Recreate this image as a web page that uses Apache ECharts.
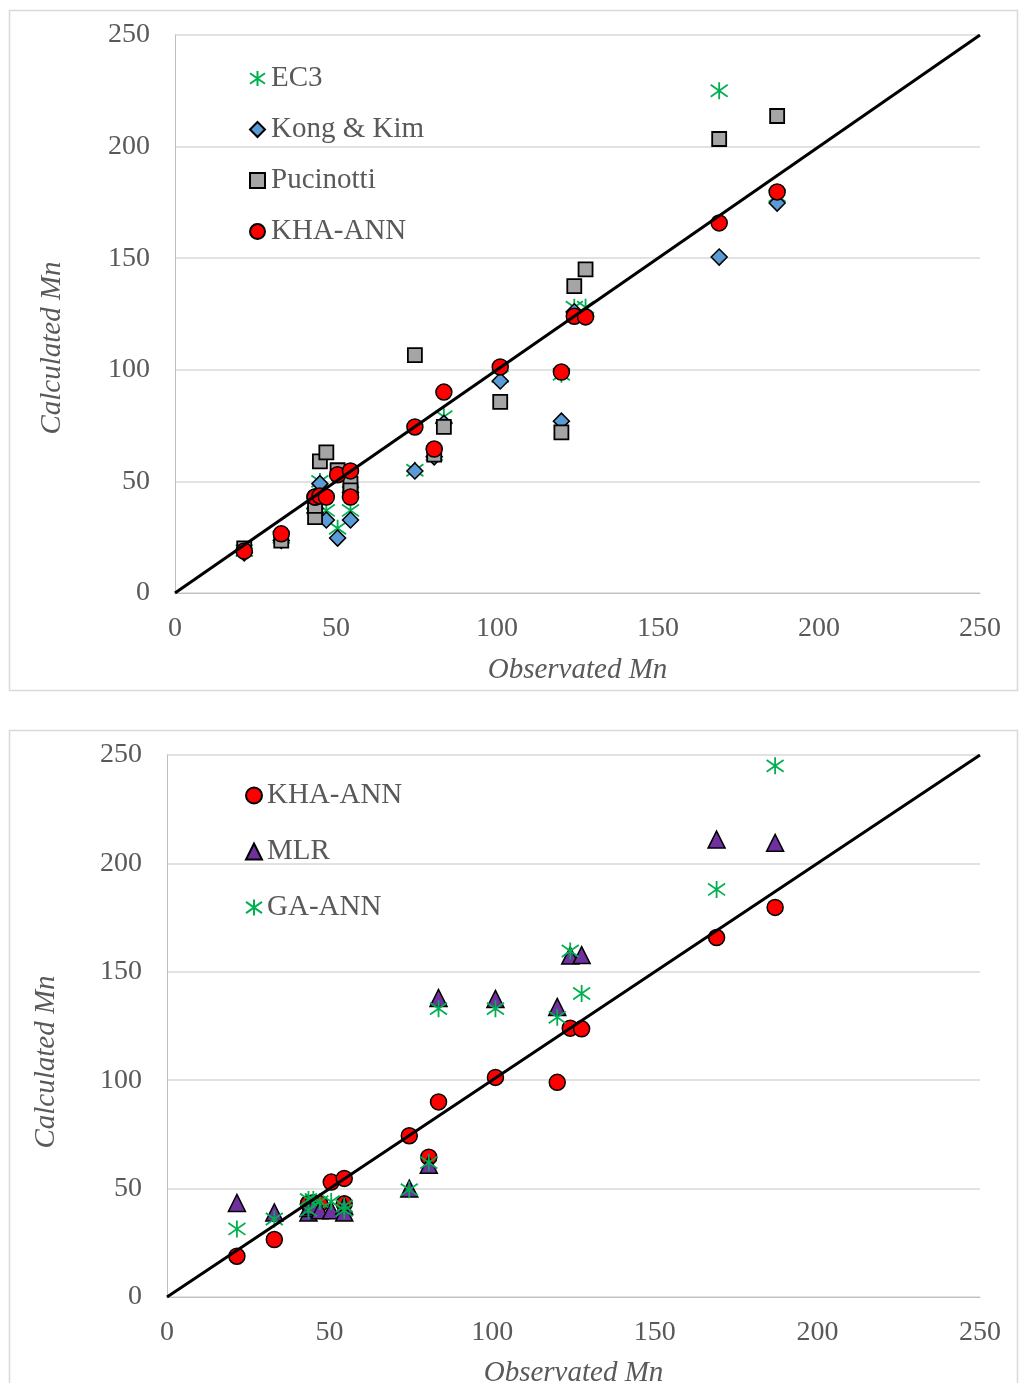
<!DOCTYPE html>
<html><head><meta charset="utf-8">
<script src="https://cdn.jsdelivr.net/npm/echarts@6/dist/echarts.min.js"></script>
<style>html,body{margin:0;padding:0;background:#fff;overflow:hidden;width:1019px;height:1383px}#c{width:1019px;height:1383px}</style>
</head><body><div id="c"></div>
<script>
// Observed Mn (shared by all series)
const observed = [21.5, 33, 43.5, 43.5, 45, 47, 50.5, 54.5, 54.5, 74.5, 80.5, 83.5, 101, 120, 124, 127.5, 169, 187];
// Top chart
const ec3 =       [19, 25, 40, 38, 50, 37, 29, 37, 45, 55, 62, 79, 97, 98, 128, 128, 225, 178];
const kongKim =   [18, 23.5, 38, 36, 49, 32.7, 24.6, 32.7, 45, 54.7, 61, 76, 95, 77, 126, 124, 150.5, 174.7];
const pucinotti = [20, 23.5, 34, 39, 59, 63, 55, 49, 46, 106.6, 62, 74.4, 85.6, 72, 137.5, 145, 203.4, 213.7];
const khaAnn =    [18.8, 26.5, 43, 43, 43.5, 43, 53, 54.7, 43, 74.4, 64.5, 90, 101.3, 99, 124, 123.7, 165.8, 179.7];
// Bottom chart
const mlr =       [43.4, 39, 39, 41, 42, 40, 40, 42, 39, 50, 61, 137.9, 137.5, 133.8, 157.5, 157.7, 211, 209.5];
const gaAnn =     [31.4, 36, 45, 40, 45, 44, 44, 40, 42, 49.5, 62, 133, 133, 129, 159.6, 140, 188, 245];
const axisTicks = [0, 50, 100, 150, 200, 250];
const identityLine = [[0, 0], [250, 250]];

const pairs = ys => observed.map((x, i) => [x, ys[i]]);
const FONT = 'Liberation Serif';
const TXT = '#595959';
const STAR = 'path://M5,0L5,10M0,1.5L10,8.5M10,1.5L0,8.5';

function xAxis(gi) {
  return {
    type: 'value', gridIndex: gi, min: axisTicks[0], max: axisTicks[axisTicks.length - 1], interval: 50,
    name: 'Observated Mn', nameLocation: 'middle', nameGap: gi === 0 ? 63 : 62,
    nameTextStyle: { fontFamily: FONT, fontStyle: 'italic', fontSize: 29, color: TXT },
    axisLine: { show: true, lineStyle: { color: '#bfbfbf', width: 1 } },
    axisTick: { show: false }, splitLine: { show: false },
    axisLabel: { fontFamily: FONT, fontSize: 28, color: TXT, margin: 22 }
  };
}
function yAxis(gi) {
  return {
    type: 'value', gridIndex: gi, min: 0, max: 250, interval: 50,
    axisLine: { show: true, lineStyle: { color: '#bfbfbf', width: 1 } },
    axisTick: { show: false },
    splitLine: { show: true, lineStyle: { color: '#d9d9d9', width: 1.5 } },
    axisLabel: { fontFamily: FONT, fontSize: 28, color: TXT, margin: 25 }
  };
}
function sc(name, gi, ys, symbol, size, color, border, bw) {
  return {
    type: 'scatter', name, xAxisIndex: gi, yAxisIndex: gi, data: pairs(ys),
    symbol, symbolSize: size,
    itemStyle: { color, borderColor: border, borderWidth: bw, opacity: 1 },
    emphasis: { disabled: true }
  };
}
function diag(gi) {
  return {
    type: 'line', name: 'diag' + gi, xAxisIndex: gi, yAxisIndex: gi, data: identityLine,
    symbol: 'none', lineStyle: { color: '#000', width: 3 }, z: 10, silent: true
  };
}

const chart = echarts.init(document.getElementById('c'), null, { renderer: 'canvas', width: 1019, height: 1383 });
chart.setOption({
  animation: false,
  backgroundColor: '#fff',
  grid: [
    { left: 175, right: 39, top: 35, height: 558, containLabel: false, outerBoundsMode: 'none' },
    { left: 167, right: 39, top: 755, height: 542, containLabel: false, outerBoundsMode: 'none' }
  ],
  xAxis: [xAxis(0), xAxis(1)],
  yAxis: [yAxis(0), yAxis(1)],
  legend: [
    { data: ['EC3', 'Kong & Kim', 'Pucinotti', 'KHA-ANN'].map(n => ({ name: n })), orient: 'vertical', left: 244, top: 59,
      itemWidth: 15, itemHeight: 15, itemGap: 22,
      textStyle: { fontFamily: FONT, fontSize: 29, color: TXT, lineHeight: 28, padding: [0, 0, 0, 1] } },
    { data: ['KHA-ANN_', 'MLR', 'GA-ANN'], orient: 'vertical', left: 240, top: 776,
      itemWidth: 16, itemHeight: 16, itemGap: 27,
      formatter: n => n.replace('_', ''),
      textStyle: { fontFamily: FONT, fontSize: 29, color: TXT, lineHeight: 28, padding: [0, 0, 0, 0] } }
  ],
  graphic: [
    { type: 'rect', shape: { x: 9.5, y: 10.5, width: 1008, height: 680 }, style: { fill: 'none', stroke: '#d9d9d9', lineWidth: 1.5 }, z: -1 },
    { type: 'rect', shape: { x: 9.5, y: 730.5, width: 1008, height: 660 }, style: { fill: 'none', stroke: '#d9d9d9', lineWidth: 1.5 }, z: -1 },
    { type: 'text', x: 52, y: 348, rotation: Math.PI / 2,
      style: { text: 'Calculated Mn', font: 'italic 29px "Liberation Serif"', fill: TXT, align: 'center', verticalAlign: 'middle' } },
    { type: 'text', x: 46, y: 1062, rotation: Math.PI / 2,
      style: { text: 'Calculated Mn', font: 'italic 29px "Liberation Serif"', fill: TXT, align: 'center', verticalAlign: 'middle' } }
  ],
  series: [
    sc('EC3', 0, ec3, STAR, 17, 'transparent', '#00b050', 1.8),
    sc('Kong & Kim', 0, kongKim, 'diamond', 16, '#5b9bd5', '#000', 1.5),
    sc('Pucinotti', 0, pucinotti, 'rect', 14, '#a5a5a5', '#000', 1.8),
    sc('KHA-ANN', 0, khaAnn, 'circle', 16, '#ff0000', '#000', 1.5),
    diag(0),
    sc('KHA-ANN_', 1, khaAnn, 'circle', 16, '#ff0000', '#000', 1.5),
    sc('MLR', 1, mlr, 'triangle', 17, '#7030a0', '#000', 1.5),
    sc('GA-ANN', 1, gaAnn, STAR, 17, 'transparent', '#00b050', 1.8),
    diag(1)
  ]
});
</script></body></html>
